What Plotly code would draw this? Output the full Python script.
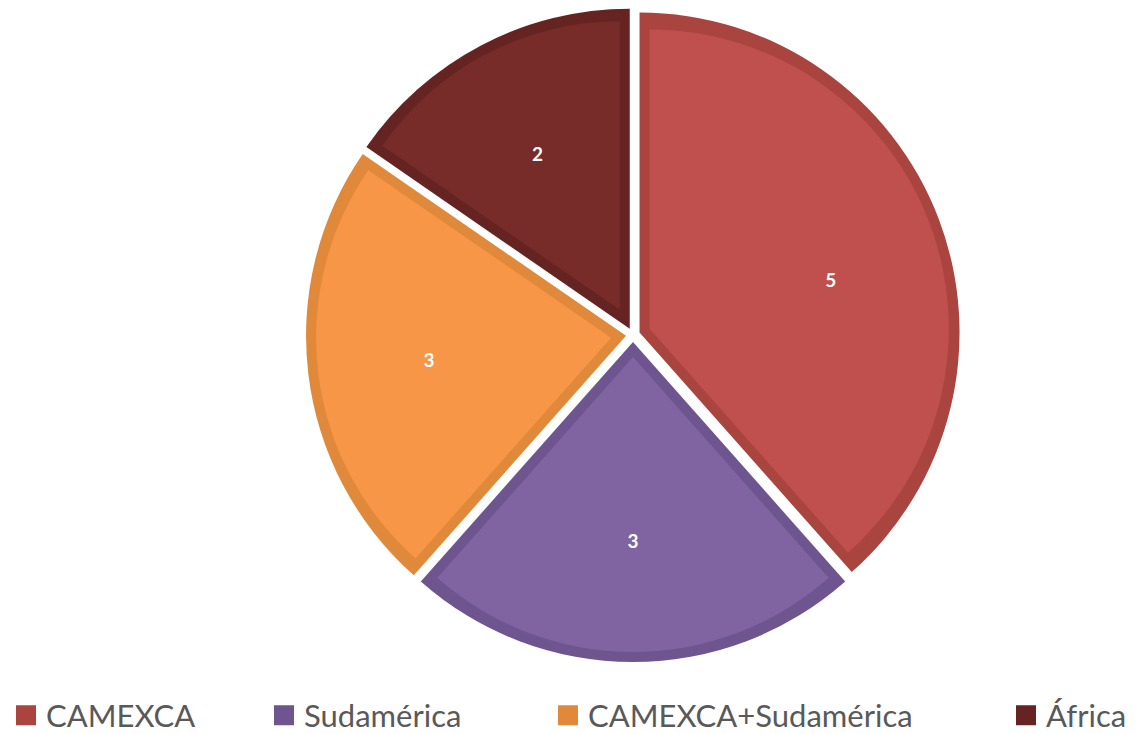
import math
import plotly.graph_objects as go

labels = ["CAMEXCA", "Sudamérica", "CAMEXCA+Sudamérica", "África"]
values = [5, 3, 3, 2]
fill_colors = ["#C0504D", "#8064A2", "#F79646", "#772C2A"]
edge_colors = ["#A9443F", "#6E5590", "#E0893A", "#652422"]

# the page body adds an 8px margin, so the figure is 16px smaller than the window
W, H = 1128, 726
CX, CY = 625, 327
R_OUT = 320
OFFSET = 7
BORDER = 10
LABEL_FRAC = 0.62          # where the value labels sit, as a fraction of the radius
LABEL_TURN = [5, 0, 0, 0]  # small angular nudge of each label (degrees)
HALF_MAX = min(CX, W - CX, CY, H - CY)
LEGEND_X_PX = [-2, 256, 540, 998]   # left edge of each legend entry


def domain_for(half):
    return dict(x=[(CX - half) / W, (CX + half) / W],
                y=[1 - (CY + half) / H, 1 - (CY - half) / H])


common = dict(labels=labels, values=values, sort=False, direction="clockwise")
total = sum(values)

fig = go.Figure()

# outer (border-coloured) slices
fig.add_trace(go.Pie(**common, rotation=0, domain=domain_for(R_OUT + OFFSET),
                     pull=[OFFSET / R_OUT] * len(values),
                     marker=dict(colors=edge_colors, line=dict(width=0)),
                     textinfo="none", hoverinfo="label+value", showlegend=False))

# inner (fill-coloured) slices, inset by BORDER
for i in range(len(values)):
    theta = 2 * math.pi * values[i] / total
    d = BORDER / math.sin(theta / 2)
    r_i = R_OUT - BORDER - d
    o_i = OFFSET + d
    pulls = [0] * len(values)
    pulls[i] = o_i / r_i
    cols = ["rgba(0,0,0,0)"] * len(values)
    cols[i] = fill_colors[i]
    fig.add_trace(go.Pie(**common, rotation=0, domain=domain_for(r_i + o_i),
                         pull=pulls,
                         marker=dict(colors=cols, line=dict(width=0)),
                         textinfo="none", hoverinfo="skip", showlegend=False))

# value labels: one transparent pie per slice, sized so plotly puts the
# label at LABEL_FRAC of the radius
for i in range(len(values)):
    theta = 2 * math.pi * values[i] / total
    k = 1 / (1 + math.sin(theta / 2))     # plotly: label at r*(1-rInscribed)
    dist = OFFSET + LABEL_FRAC * R_OUT
    if dist / k <= HALF_MAX:
        half, p = dist / k, 0.0
    else:
        half = HALF_MAX
        p = (dist - half * k) / (half - dist)
    pulls = [0] * len(values)
    pulls[i] = p
    txt = [str(values[j]) if j == i else "" for j in range(len(values))]
    fig.add_trace(go.Pie(**common, rotation=LABEL_TURN[i],
                         domain=domain_for(half), pull=pulls,
                         marker=dict(colors=["rgba(0,0,0,0)"] * len(values),
                                     line=dict(width=0)),
                         text=txt, textinfo="text", textposition="inside",
                         insidetextorientation="horizontal",
                         textfont=dict(family="Lato", size=19, color="white",
                                       weight="bold"),
                         hoverinfo="skip", showlegend=False))

# legend entries (one legend per entry so they can be spread like the original)
legend_layouts = {}
for i, lab in enumerate(labels):
    key = "legend" if i == 0 else f"legend{i + 1}"
    fig.add_trace(go.Scatter(x=[None], y=[None], mode="markers", name=lab,
                             legend=key, hoverinfo="skip",
                             marker=dict(symbol="square", size=16,
                                         color=edge_colors[i],
                                         line=dict(width=4, color=edge_colors[i]))))
    legend_layouts[key] = dict(orientation="h", x=LEGEND_X_PX[i] / W,
                               xanchor="left", y=-0.012, yanchor="bottom",
                               bgcolor="rgba(0,0,0,0)",
                               font=dict(family="Lato", size=31, color="#595959"),
                               itemclick=False, itemdoubleclick=False)

fig.update_layout(
    width=W, height=H,
    margin=dict(l=0, r=0, t=0, b=0, autoexpand=False),
    paper_bgcolor="white", plot_bgcolor="white",
    xaxis=dict(visible=False), yaxis=dict(visible=False),
    **legend_layouts,
)

fig.write_html("out.html")
